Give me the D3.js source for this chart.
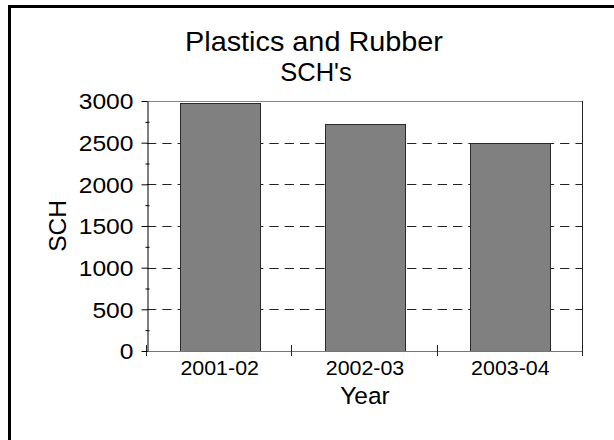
<!DOCTYPE html>
<html>
<head>
<meta charset="utf-8">
<script src="https://cdn.jsdelivr.net/npm/d3@7"></script>
<style>
  body { margin: 0; background: #fff; }
  text { font-family: Arial, "Liberation Sans", sans-serif; fill: #000; }
</style>
</head>
<body>
<svg id="chart"></svg>
<script>
// Data
var years = ['2001-02', '2002-03', '2003-04'];
var schValues = [2980, 2725, 2502];
var yTicks = [0, 500, 1000, 1500, 2000, 2500, 3000];
var yMinorTicks = [250, 750, 1250, 1750, 2250, 2750];
var gridTicks = [500, 1000, 1500, 2000, 2500];

// Canvas size
var canvasWidth = 614;
var canvasHeight = 440;

// Plot box
var plot = { left: 147, right: 583, top: 101, bottom: 351 };

var svg = d3.select('#chart')
  .attr('width', canvasWidth)
  .attr('height', canvasHeight);

// Outer frame (only left and top edges visible)
svg.append('path')
  .attr('d', 'M9.5,440V6.5H614')
  .attr('fill', 'none')
  .attr('stroke', '#000')
  .attr('stroke-width', 3);

// Scales
var x = d3.scaleBand()
  .domain(years)
  .range([plot.left, plot.right])
  .paddingInner(0.45)
  .paddingOuter(0.225);

var y = d3.scaleLinear()
  .domain([0, 3000])
  .range([plot.bottom, plot.top]);

// Dashed gridlines
svg.append('g')
  .selectAll('line')
  .data(gridTicks)
  .enter()
  .append('line')
  .attr('x1', plot.left)
  .attr('x2', plot.right)
  .attr('y1', function(d) { return Math.round(y(d)) + 0.5; })
  .attr('y2', function(d) { return Math.round(y(d)) + 0.5; })
  .attr('stroke', '#222')
  .attr('stroke-dasharray', '9.3,6');

// Plot border: top gray, right dark
svg.append('line')
  .attr('x1', plot.left).attr('x2', plot.right)
  .attr('y1', plot.top + 0.5).attr('y2', plot.top + 0.5)
  .attr('stroke', '#888');

svg.append('line')
  .attr('x1', plot.right - 0.5).attr('x2', plot.right - 0.5)
  .attr('y1', plot.top).attr('y2', plot.bottom + 5)
  .attr('stroke', '#222');

// Bars
svg.append('g')
  .selectAll('rect')
  .data(schValues)
  .enter()
  .append('rect')
  .attr('x', function(d, i) { return Math.round(x(years[i])) + 0.5; })
  .attr('y', function(d) { return Math.round(y(d)) + 0.5; })
  .attr('width', Math.round(x.bandwidth()))
  .attr('height', function(d) { return plot.bottom - Math.round(y(d)); })
  .attr('fill', '#808080')
  .attr('stroke', '#2a2a2a');

// X axis baseline
svg.append('line')
  .attr('x1', plot.left).attr('x2', plot.right)
  .attr('y1', plot.bottom + 0.5).attr('y2', plot.bottom + 0.5)
  .attr('stroke', '#777')
  .attr('stroke-width', 1.2);

// X axis boundary ticks
svg.append('g')
  .selectAll('line')
  .data(d3.range(years.length + 1))
  .enter()
  .append('line')
  .attr('x1', function(i) { return Math.round(plot.left + i * x.step()) - 0.5; })
  .attr('x2', function(i) { return Math.round(plot.left + i * x.step()) - 0.5; })
  .attr('y1', plot.bottom - 6)
  .attr('y2', plot.bottom + 5)
  .attr('stroke', '#222');

// X axis labels
var xAxis = d3.axisBottom(x).tickSize(0).tickPadding(0);
var xAxisG = svg.append('g')
  .attr('transform', 'translate(0,' + plot.bottom + ')')
  .call(xAxis);
xAxisG.select('.domain').remove();
xAxisG.selectAll('text')
  .attr('y', 0)
  .attr('dy', 0)
  .attr('transform', 'translate(0,24) scale(1.07,1)')
  .style('font-size', '20px')
  .style('font-family', 'Arial, "Liberation Sans", sans-serif');

// Y axis with major ticks
var yAxis = d3.axisLeft(y)
  .tickValues(yTicks)
  .tickFormat(d3.format('d'))
  .tickSize(6)
  .tickSizeOuter(0)
  .tickPadding(0);
var yAxisG = svg.append('g')
  .attr('transform', 'translate(' + (plot.left + 0.5) + ',0)')
  .call(yAxis);
yAxisG.select('.domain').attr('stroke', '#000');
yAxisG.selectAll('.tick line').attr('stroke', '#000');
yAxisG.selectAll('text')
  .attr('x', 0)
  .attr('dy', '0.35em')
  .attr('transform', 'translate(-14,0) scale(1.12,1)')
  .style('font-size', '22px')
  .style('font-family', 'Arial, "Liberation Sans", sans-serif');

// Y axis minor ticks
var yMinor = d3.axisLeft(y)
  .tickValues(yMinorTicks)
  .tickSize(4)
  .tickSizeOuter(0)
  .tickFormat('');
var yMinorG = svg.append('g')
  .attr('transform', 'translate(' + (plot.left + 2.5) + ',0)')
  .call(yMinor);
yMinorG.select('.domain').remove();
yMinorG.selectAll('.tick line').attr('stroke', '#000');

// Titles
svg.append('text')
  .attr('text-anchor', 'middle')
  .attr('transform', 'translate(314,51) scale(1.03,1)')
  .style('font-size', '28px')
  .text('Plastics and Rubber');

svg.append('text')
  .attr('text-anchor', 'middle')
  .attr('transform', 'translate(316,81)')
  .style('font-size', '25.5px')
  .text("SCH's");

// Axis labels
svg.append('text')
  .attr('text-anchor', 'middle')
  .attr('transform', 'translate(365,404)')
  .style('font-size', '24.5px')
  .text('Year');

svg.append('text')
  .attr('text-anchor', 'middle')
  .attr('transform', 'translate(66,' + ((plot.top + plot.bottom) / 2) + ') rotate(-90)')
  .style('font-size', '24.5px')
  .text('SCH');
</script>
</body>
</html>
